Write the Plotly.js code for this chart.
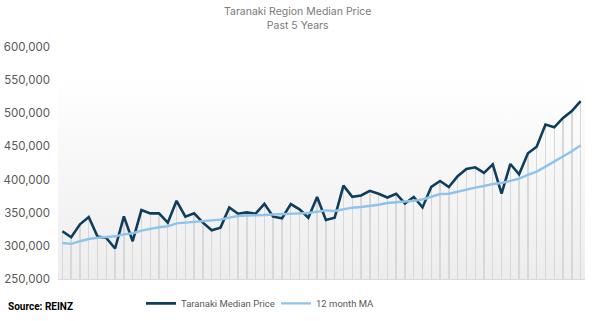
<!DOCTYPE html>
<html>
<head>
<meta charset="utf-8">
<script src="https://cdn.plot.ly/plotly-3.0.1.min.js"></script>
<style>
  html, body { margin: 0; padding: 0; background: #ffffff; }
  #chart { width: 598px; height: 321px; }
</style>
</head>
<body>
<div id="chart"></div>
<script>
// Month index (past 5 years, monthly)
const months = Array.from({length: 60}, (_, i) => i);

const medianPrice = [
  322000, 313000, 332500, 343500, 314000, 312000, 296000, 344500, 307000, 354000,
  349000, 349000, 335000, 368000, 344000, 349000, 335000, 323500, 327500, 358000,
  348500, 350500, 348500, 363500, 344000, 341500, 363000, 355000, 342500, 373700,
  339000, 342500, 390800, 374000, 376000, 383000, 378700, 373000, 378700, 364000,
  373700, 358000, 389000, 397800, 388800, 405000, 416000, 418500, 410000, 423000,
  378700, 423500, 408000, 439600, 449600, 483000, 478800, 493000, 503400, 518500
];

const movingAvg = [
  304300, 303000, 307000, 310300, 312300, 313400, 314400, 317400, 319000, 323000,
  326000, 328000, 329500, 334000, 335000, 336000, 337500, 338000, 339500, 342500,
  345000, 345700, 345700, 346500, 347300, 347600, 347600, 349000, 349500, 352000,
  353500, 352600, 355600, 357600, 358600, 360000, 362000, 364600, 365700, 366600,
  368000, 370000, 373700, 378200, 378700, 382000, 385300, 387800, 390300, 393300,
  394800, 398400, 401400, 407000, 412000, 419500, 427000, 434500, 442600, 451600
];

const yTicks = [250000, 300000, 350000, 400000, 450000, 500000, 550000, 600000];

const seriesNames = ["Taranaki Median Price", "12 month MA"];
const titleLines = ["Taranaki Region Median Price", "Past 5 Years"];
const sourceText = "Source: REINZ";

const gradSvg = '<svg xmlns="http://www.w3.org/2000/svg" width="10" height="100" preserveAspectRatio="none">' +
  '<defs><linearGradient id="g" x1="0" y1="0" x2="0" y2="1">' +
  '<stop offset="0" stop-color="#ffffff"/><stop offset="1" stop-color="#ededed"/>' +
  '</linearGradient></defs><rect width="10" height="100" fill="url(#g)"/></svg>';
const gradUri = 'data:image/svg+xml;base64,' + btoa(gradSvg);

const traces = [
  {
    type: 'bar',
    x: months,
    y: medianPrice,
    width: 0.16,
    marker: { color: '#d8d8d8', line: { width: 0 } },
    showlegend: false,
    hoverinfo: 'skip'
  },
  {
    type: 'scatter',
    mode: 'lines',
    name: seriesNames[0],
    x: months,
    y: medianPrice,
    line: { color: '#0f3d5c', width: 2.6 },
    legend: 'legend'
  },
  {
    type: 'scatter',
    mode: 'lines',
    name: seriesNames[1],
    x: months,
    y: movingAvg,
    line: { color: '#8ec4ec', width: 2.4 },
    legend: 'legend2'
  }
];

const legendFont = { size: 9.5, color: '#595959', family: 'Roboto, Inter, sans-serif' };

const layout = {
  width: 598,
  height: 321,
  margin: { l: 58, r: 13, t: 47, b: 42, autoexpand: false },
  paper_bgcolor: '#ffffff',
  plot_bgcolor: 'rgba(0,0,0,0)',
  font: { family: 'Inter, Roboto, sans-serif', color: '#595959', size: 11 },
  xaxis: {
    range: [-0.5, 59.5],
    showticklabels: false,
    ticks: '',
    showgrid: false,
    zeroline: false,
    showline: true,
    linecolor: '#d9d9d9',
    linewidth: 1
  },
  yaxis: {
    range: [250000, 600000],
    tickvals: yTicks,
    tickformat: ',d',
    showgrid: false,
    zeroline: false,
    showline: false,
    ticks: '',
    ticklabelstandoff: 7,
    tickfont: { size: 11.5, color: '#595959' }
  },
  bargap: 0,
  showlegend: true,
  legend: {
    orientation: 'h',
    x: 0.1575, xanchor: 'left',
    y: -0.105, yanchor: 'middle',
    font: legendFont,
    itemwidth: 30,
    bgcolor: 'rgba(0,0,0,0)'
  },
  legend2: {
    orientation: 'h',
    x: 0.4137, xanchor: 'left',
    y: -0.105, yanchor: 'middle',
    font: legendFont,
    itemwidth: 30,
    bgcolor: 'rgba(0,0,0,0)'
  },
  images: [{
    source: gradUri,
    xref: 'paper', yref: 'y',
    x: 0, y: 555000,
    sizex: 1, sizey: 305000,
    xanchor: 'left', yanchor: 'top',
    sizing: 'stretch',
    layer: 'below'
  }],
  annotations: [
    {
      text: titleLines.join('<br>'),
      xref: 'paper', yref: 'paper',
      x: 0.455, xanchor: 'center',
      y: 1.1207, yanchor: 'middle',
      showarrow: false,
      font: { size: 10.5, color: '#7a7a7a' }
    },
    {
      text: '<b>' + sourceText + '</b>',
      xref: 'paper', yref: 'paper',
      x: -0.099, xanchor: 'left',
      y: -0.12, yanchor: 'middle',
      showarrow: false,
      font: { size: 10, color: '#000000', family: 'Roboto, Inter, sans-serif' }
    }
  ]
};

Plotly.newPlot('chart', traces, layout, { displayModeBar: false, staticPlot: true });
</script>
</body>
</html>
